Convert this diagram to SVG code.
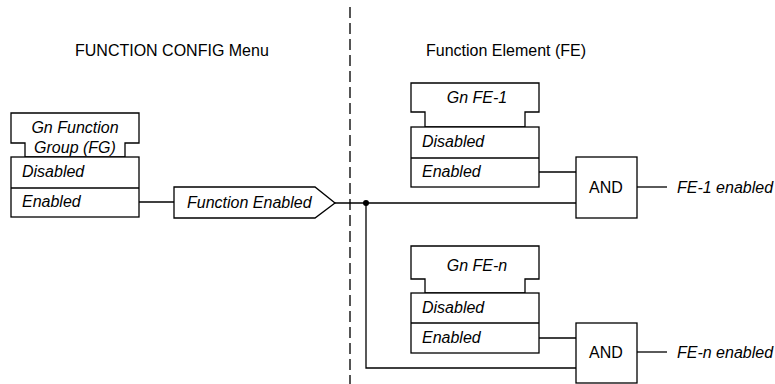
<svg xmlns="http://www.w3.org/2000/svg" width="775" height="384" viewBox="0 0 775 384">
<style>
.s{fill:#fff;stroke:#000;stroke-width:1.3}
.l{fill:none;stroke:#000;stroke-width:1.3}
text{font-family:"Liberation Sans",Arial,sans-serif;font-size:16px;fill:#000}
.i{font-style:italic}
</style>
<rect width="775" height="384" fill="#fff"/>
<g id="headers">
<text x="75" y="56">FUNCTION CONFIG Menu</text>
<text x="426" y="56">Function Element (FE)</text>
</g>
<line id="divider" x1="350" y1="7" x2="350" y2="384" stroke="#555" stroke-width="2" stroke-dasharray="11 5"/>
<g id="connectors">
<line class="l" x1="139" y1="202" x2="174" y2="202"/>
<line class="l" x1="335" y1="203" x2="576" y2="203"/>
<polyline class="l" points="366,203 366,368 576,368"/>
<circle cx="366" cy="203" r="3" fill="#000"/>
<line class="l" x1="539" y1="172" x2="576" y2="172"/>
<line class="l" x1="637" y1="187" x2="667" y2="187"/>
<line class="l" x1="539" y1="338" x2="576" y2="338"/>
<line class="l" x1="637" y1="352" x2="667" y2="352"/>
</g>
<g id="fg">
<path class="s" d="M11,113 H139 V143 H125 V157 H25 V143 H11 Z"/>
<rect class="s" x="11" y="157" width="128" height="60"/>
<line class="l" x1="11" y1="188" x2="139" y2="188"/>
<text class="i" x="75" y="133" text-anchor="middle">Gn Function</text>
<text class="i" x="75" y="153" text-anchor="middle">Group (FG)</text>
<text class="i" x="22" y="177">Disabled</text>
<text class="i" x="22" y="207">Enabled</text>
</g>
<g id="function-enabled">
<path class="s" d="M174,187 H315 L335,203 L315,218 H174 Z"/>
<text class="i" x="187" y="208">Function Enabled</text>
</g>
<g id="fe1">
<path class="s" d="M411,83 H539 V112 H525 V127 H425 V112 H411 Z"/>
<rect class="s" x="411" y="127" width="128" height="60"/>
<line class="l" x1="411" y1="158" x2="539" y2="158"/>
<text class="i" x="477" y="103" text-anchor="middle">Gn FE-1</text>
<text class="i" x="422" y="147">Disabled</text>
<text class="i" x="422" y="177">Enabled</text>
</g>
<g id="and1">
<rect class="s" x="576" y="157" width="61" height="61"/>
<text x="606" y="193" text-anchor="middle">AND</text>
</g>
<text id="out1" class="i" x="677" y="193">FE-1 enabled</text>
<g id="fen">
<path class="s" d="M411,246 H539 V279 H525 V293 H425 V279 H411 Z"/>
<rect class="s" x="411" y="293" width="128" height="60"/>
<line class="l" x1="411" y1="323" x2="539" y2="323"/>
<text class="i" x="477" y="271" text-anchor="middle">Gn FE-n</text>
<text class="i" x="422" y="313">Disabled</text>
<text class="i" x="422" y="343">Enabled</text>
</g>
<g id="andn">
<rect class="s" x="576" y="323" width="61" height="60"/>
<text x="606" y="358" text-anchor="middle">AND</text>
</g>
<text id="outn" class="i" x="677" y="358">FE-n enabled</text>
</svg>
